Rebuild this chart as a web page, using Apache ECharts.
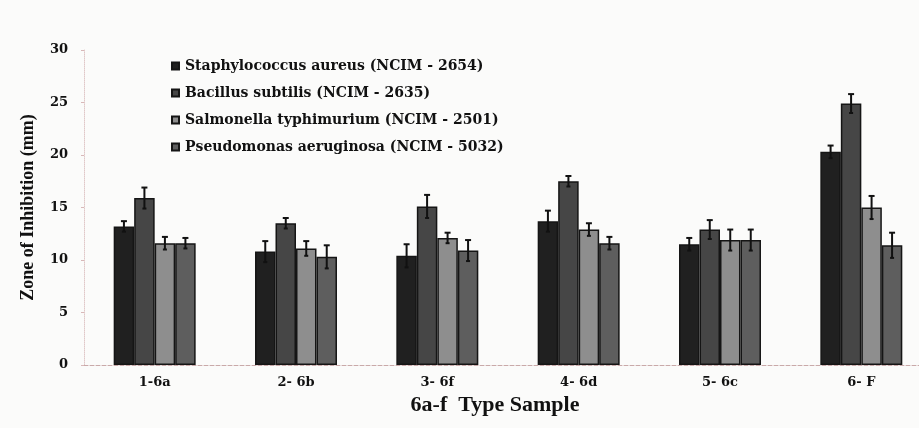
<!DOCTYPE html>
<html><head><meta charset="utf-8">
<script src="https://cdn.jsdelivr.net/npm/echarts@6/dist/echarts.min.js"></script>
<style>html,body{margin:0;padding:0;background:#fbfbfa;overflow:hidden;}#c{width:932px;height:428px;}</style>
</head><body><div id="c"></div>
<script>
var categories = ['1-6a', '2- 6b', '3- 6f', '4- 6d', '5- 6c', '6- F'];
var seriesNames = ['Staphylococcus aureus (NCIM - 2654)', 'Bacillus subtilis (NCIM - 2635)', 'Salmonella typhimurium (NCIM - 2501)', 'Pseudomonas aeruginosa (NCIM - 5032)'];
var staph = [13.2, 10.8, 10.4, 13.7, 11.5, 20.3];
var bacillus = [15.9, 13.5, 15.1, 17.5, 12.9, 24.9];
var salmonella = [11.6, 11.1, 12.1, 12.9, 11.9, 15.0];
var pseudomonas = [11.6, 10.3, 10.9, 11.6, 11.9, 11.4];
var staphErr = [0.5, 1.0, 1.1, 1.0, 0.6, 0.6];
var bacillusErr = [1.0, 0.5, 1.1, 0.5, 0.9, 0.9];
var salmonellaErr = [0.6, 0.7, 0.5, 0.6, 1.0, 1.1];
var pseudomonasErr = [0.5, 1.1, 1.0, 0.6, 1.0, 1.2];
var yTicks = [0, 5, 10, 15, 20, 25, 30];

var colors = ['#202020', '#464646', '#8e8e8e', '#5e5e5e'];
var values = [staph, bacillus, salmonella, pseudomonas];
var errs = [staphErr, bacillusErr, salmonellaErr, pseudomonasErr];
var catGap = 0.42;
var serif = '"Liberation Serif", "Times New Roman", serif';
var wide = '"DejaVu Serif", serif';

var errData = [];
for (var s = 0; s < 4; s++) {
  for (var i = 0; i < categories.length; i++) {
    errData.push([i, values[s][i], errs[s][i], s]);
  }
}

function renderErr(params, api) {
  var ci = api.value(0), v = api.value(1), e = api.value(2), s = api.value(3);
  var band = api.size([1, 0])[0];
  var bw = band * (1 - catGap) / 4;
  var center = api.coord([ci, v]);
  var x = center[0] + (s - 1.5) * bw;
  var top = api.coord([ci, v + e])[1];
  var bot = api.coord([ci, v - e])[1];
  var style = {stroke: '#111', lineWidth: 2};
  return {type: 'group', children: [
    {type: 'line', shape: {x1: x, y1: top, x2: x, y2: bot}, style: style},
    {type: 'line', shape: {x1: x - 3, y1: top, x2: x + 3, y2: top}, style: style},
    {type: 'line', shape: {x1: x - 2, y1: bot, x2: x + 2, y2: bot}, style: style}
  ]};
}

var series = [];
for (var k = 0; k < 4; k++) {
  series.push({
    name: seriesNames[k], type: 'bar', data: values[k],
    barGap: '0%', barCategoryGap: (catGap * 100) + '%',
    itemStyle: {color: colors[k], borderColor: '#151515', borderWidth: 1.5}
  });
}
series.push({type: 'custom', renderItem: renderErr, data: errData, z: 10,
  encode: {x: 0, y: 1}, silent: true});

var chart = echarts.init(document.getElementById('c'));
chart.setOption({
  backgroundColor: '#fbfbfa',
  animation: false,
  color: colors,
  grid: {left: 84, right: 0, top: 50, bottom: 63},
  legend: {
    data: seriesNames, orient: 'vertical', left: 166, top: 54,
    itemWidth: 7, itemHeight: 7, itemGap: 13, icon: 'rect',
    textStyle: {fontFamily: wide, fontWeight: 'bold', fontSize: 14, color: '#111', padding: [0, 0, 0, 1]}
  },
  xAxis: {
    type: 'category', data: categories,
    name: '6a-f  Type Sample', nameLocation: 'middle', nameGap: 28,
    nameTextStyle: {fontFamily: serif, fontWeight: 'bold', fontSize: 22, color: '#111', padding: [0, 26, 0, 0]},
    axisLine: {lineStyle: {color: '#c9a9a9', type: 'dashed', width: 1}},
    axisTick: {show: false},
    axisLabel: {fontFamily: wide, fontWeight: 'bold', fontSize: 13, color: '#111', margin: 11}
  },
  yAxis: {
    type: 'value', min: 0, max: 30, interval: 5,
    name: 'Zone of Inhibition (mm)', nameLocation: 'middle', nameGap: 47, nameRotate: 90,
    nameTextStyle: {fontFamily: serif, fontWeight: 'bold', fontSize: 18, color: '#111'},
    axisLine: {show: true, lineStyle: {color: '#e0c8c8', type: 'dotted'}},
    axisTick: {show: true, length: 3, lineStyle: {color: '#d8b8b8'}},
    splitLine: {show: false},
    axisLabel: {fontFamily: wide, fontWeight: 'bold', fontSize: 13, color: '#111', margin: 16,
      formatter: function (v) { return yTicks.indexOf(v) >= 0 ? String(v) : ''; }}
  },
  series: series
});
</script></body></html>
